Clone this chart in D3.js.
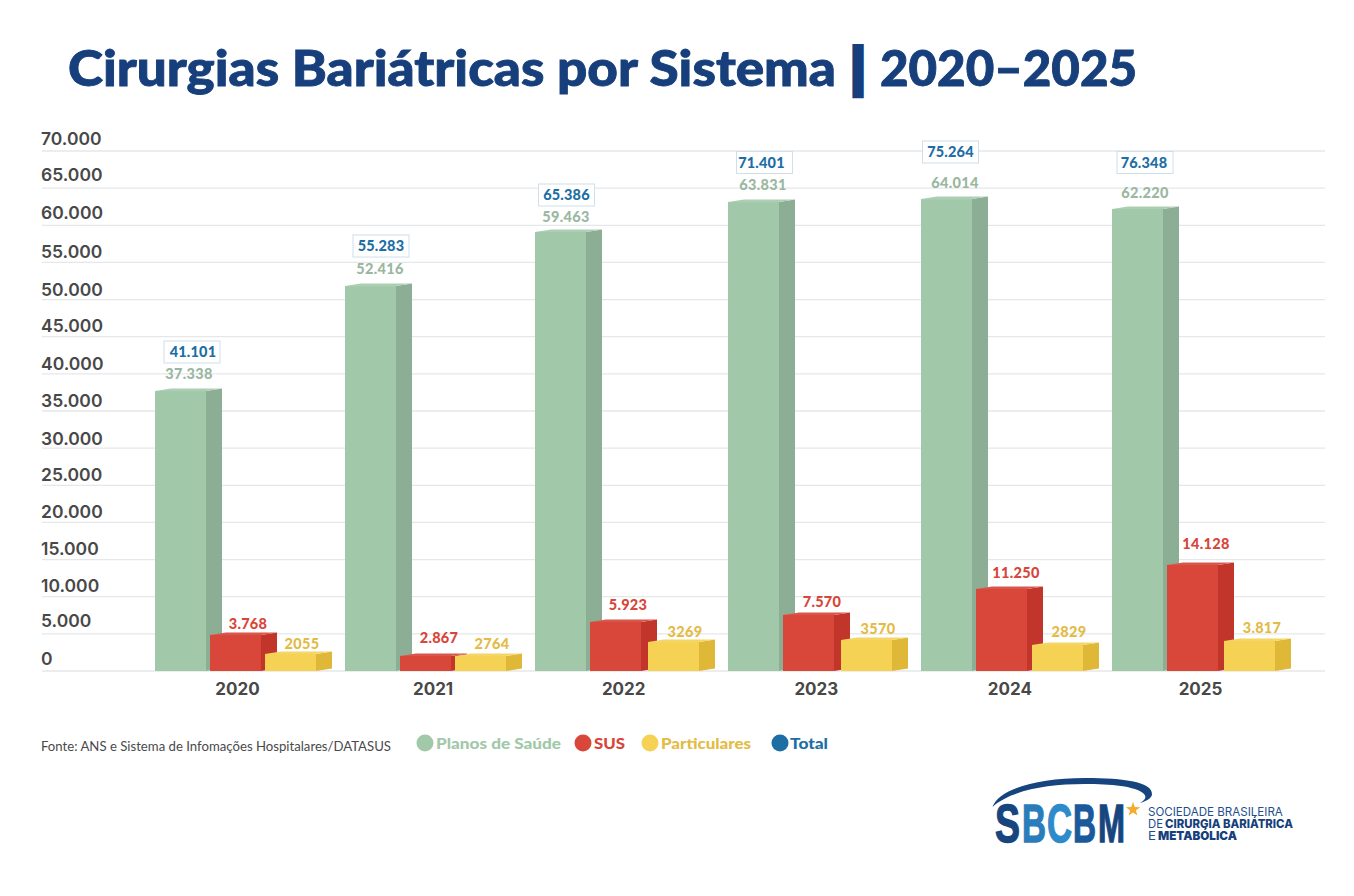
<!DOCTYPE html>
<html lang="pt-BR">
<head>
<meta charset="utf-8">
<title>Cirurgias Bariátricas por Sistema</title>
<script src="https://cdn.jsdelivr.net/npm/d3@7/dist/d3.min.js"></script>
<style>
html,body{margin:0;padding:0;background:#fff;}
svg{display:block;}
.domain{display:none;}
</style>
</head>
<body>
<svg id="chart" width="1354" height="896"></svg>
<script>
// ---- data ----
const years = ["2020","2021","2022","2023","2024","2025"];
const yTicks = [0,5000,10000,15000,20000,25000,30000,35000,40000,45000,50000,55000,60000,65000,70000];
// bar heights as they are drawn in the picture
const planos = [37690,51820,59100,63130,63530,62190];
const sus = [4850,2020,6600,7540,11040,14270];
const particulares = [2290,2020,3900,4170,3500,4040];
// printed value labels
const planosLabels = ["37.338","52.416","59.463","63.831","64.014","62.220"];
const susLabels = ["3.768","2.867","5.923","7.570","11.250","14.128"];
const particularesLabels = ["2055","2764","3269","3570","2829","3.817"];
const totalLabels = ["41.101","55.283","65.386","71.401","75.264","76.348"];
const legendNames = ["Planos de Saúde","SUS","Particulares","Total"];
const titleMain = "Cirurgias Bariátricas por Sistema";
const titleBar = "|";
const titleYears = "2020–2025";
const sourceText = "Fonte: ANS e Sistema de Infomações Hospitalares/DATASUS";

// ---- layout (hand placement in the original) ----
const C = {
  green:{front:"#a2c8aa",side:"#8cae95",top:"#abcfb3",label:"#9ab7a1",legend:"#a2c8aa"},
  red:{front:"#d9473a",side:"#c2352b",top:"#d8574c",label:"#d8453a",legend:"#d9473a"},
  yellow:{front:"#f5d253",side:"#e0b838",top:"#f3d666",label:"#e3bb45",legend:"#f5d253"},
  blue:"#1c6ea4", navy:"#173f7c", axis:"#484848", grid:"#e6e7ea", box:"#cfe0ea"
};
const barW = 51, depthX = 16, depthY = 2.5;
const groupNudge = [0,-1.4,-2.8,-1.2,0.4,0];
const seriesDX = {green:0, red:55, yellow:110};
const yellowNudge = [0,0,3,3,1,2];
const labelDX = {green:[34,35,31,35,34,33], red:[38,39,38,39,40,39], yellow:[37,37,37,37,37,38]};
const labelDY = {green:[17,17,15,17,16,16], red:[11,18,17,13,16,21], yellow:[10,12,10,11,13,13]};
const boxCX = [192,381,566.5,764.5,950.5,1145];
const boxCY = [352,246,195,162.5,152,162.5];
const boxTextDX = [1,0,0,-3,0,-1];
const yearNudge = [0,3,1,1,2,0];
const yTickShift = [-13,-13,-11,-11,-11,-11,-10,-11,-10,-11,-10,-11.5,-13,-14,-13];

const svg = d3.select("#chart");
const font = "Lato, sans-serif";

// ---- scales ----
const y = d3.scaleLinear().domain([0,70000]).range([671,151]);
const x = d3.scalePoint().domain(years).range([155,1112]);
const xLabel = d3.scalePoint().domain(years).range([237,1200]);
const fmt = d => d === 0 ? "0" : d3.format(",")(d).replace(/,/g,".");

// ---- title ----
svg.append("text").attr("x",68).attr("y",86).attr("fill",C.navy).attr("stroke",C.navy).attr("stroke-width",0.9)
  .attr("font-family",font).attr("font-weight",900).attr("font-size",50)
  .attr("textLength",768).attr("lengthAdjust","spacingAndGlyphs").text(titleMain);
svg.append("text").attr("x",858).attr("y",83.5).attr("text-anchor","middle").attr("fill",C.navy)
  .attr("stroke",C.navy).attr("stroke-width",6)
  .attr("font-family","DejaVu Sans").attr("font-weight",700).attr("font-size",48).text(titleBar);
svg.append("text").attr("x",880).attr("y",86).attr("fill",C.navy).attr("stroke",C.navy).attr("stroke-width",0.9)
  .attr("font-family",font).attr("font-weight",900).attr("font-size",50)
  .attr("textLength",257).attr("lengthAdjust","spacingAndGlyphs").text(titleYears);

// ---- grid and y axis ----
const yAxis = d3.axisLeft(y).tickValues(yTicks).tickFormat(fmt).tickSize(0).tickPadding(0);
const gy = svg.append("g").attr("transform","translate(41,0)").call(yAxis);
gy.selectAll("text").attr("text-anchor","start").attr("x",0).attr("dy","0.35em")
  .attr("transform",(d,i)=>`translate(0,${yTickShift[i]})`)
  .attr("font-family","Inter, sans-serif").attr("font-weight",600).attr("font-size",17.5)
  .attr("fill",C.axis);
svg.append("g").selectAll("line").data(yTicks).join("line")
  .attr("x1",42).attr("x2",1325).attr("y1",d=>y(d)).attr("y2",d=>y(d))
  .attr("stroke",C.grid).attr("stroke-width",1.3);

// ---- x axis ----
const xAxis = d3.axisBottom(xLabel).tickSize(0).tickPadding(0);
const gx = svg.append("g").attr("transform","translate(0,689)").call(xAxis);
gx.selectAll("text").attr("y",0).attr("dy","0.36em")
  .attr("dx",(d,i)=>yearNudge[i])
  .attr("font-family","Inter, sans-serif").attr("font-weight",700).attr("font-size",17)
  .attr("fill",C.axis);

// ---- 3D bars ----
function barX(key,i){
  return x(years[i]) + groupNudge[i] + seriesDX[key] + (key==="yellow" ? yellowNudge[i] : 0);
}
function drawSeries(key,values,labels){
  const col = C[key];
  const g = svg.append("g").attr("class","series-"+key);
  const items = values.map((v,i)=>({v,i,year:years[i],label:labels[i]}));
  const bars = g.selectAll("g").data(items).join("g");
  bars.append("rect")
    .attr("x",d=>barX(key,d.i)).attr("y",d=>y(d.v))
    .attr("width",barW).attr("height",d=>y(0)-y(d.v)).attr("fill",col.front);
  bars.append("polygon").attr("fill",col.side).attr("points",d=>{
    const l=barX(key,d.i)+barW, r=l+depthX, t=y(d.v), b=y(0);
    return [[l,b],[r,b-depthY],[r,t-depthY],[l,t]].join(" ");
  });
  bars.append("polygon").attr("fill",col.top).attr("points",d=>{
    const l=barX(key,d.i), t=y(d.v);
    return [[l,t],[l+depthX,t-depthY],[l+barW+depthX,t-depthY],[l+barW,t]].join(" ");
  });
}
function drawLabels(key,values,labels){
  svg.append("g").selectAll("text").data(values).join("text")
    .attr("x",(d,i)=>barX(key,i)+labelDX[key][i])
    .attr("y",(d,i)=>y(d)-labelDY[key][i])
    .attr("dy","0.36em").attr("text-anchor","middle")
    .attr("font-family",font).attr("font-weight",900).attr("font-size",14.5)
    .attr("letter-spacing",0.3).attr("fill",C[key].label)
    .text((d,i)=>labels[i]);
}
drawSeries("green",planos,planosLabels);
drawSeries("red",sus,susLabels);
drawSeries("yellow",particulares,particularesLabels);
drawLabels("green",planos,planosLabels);
drawLabels("red",sus,susLabels);
drawLabels("yellow",particulares,particularesLabels);

// ---- total boxes ----
const tg = svg.append("g").selectAll("g").data(totalLabels).join("g");
tg.append("rect").attr("x",(d,i)=>boxCX[i]-28).attr("y",(d,i)=>boxCY[i]-11)
  .attr("width",56).attr("height",22).attr("fill","#fff").attr("stroke",C.box).attr("stroke-width",1);
tg.append("text").attr("x",(d,i)=>boxCX[i]+boxTextDX[i]).attr("y",(d,i)=>boxCY[i])
  .attr("dy","0.36em").attr("text-anchor","middle").attr("fill",C.blue)
  .attr("font-family",font).attr("font-weight",900).attr("font-size",14.5).attr("letter-spacing",0.2)
  .text(d=>d);

// ---- source + legend ----
svg.append("text").attr("x",41).attr("y",746).attr("dy","0.35em").attr("fill","#4a4a4a")
  .attr("font-family",font).attr("font-weight",400).attr("font-size",13)
  .attr("textLength",350).attr("lengthAdjust","spacingAndGlyphs").text(sourceText);
const legendCX = [425,583,650,780];
const legendTX = [436,594,661,790];
const legendTW = [125,31,90,38];
const legendDot = [C.green.legend,C.red.legend,C.yellow.legend,C.blue];
const legendTxt = [C.green.legend,C.red.label,C.yellow.label,C.blue];
const lg = svg.append("g").selectAll("g").data(legendNames).join("g");
lg.append("circle").attr("cx",(d,i)=>legendCX[i]).attr("cy",743).attr("r",8.5).attr("fill",(d,i)=>legendDot[i]);
lg.append("text").attr("x",(d,i)=>legendTX[i]).attr("y",744).attr("dy","0.36em")
  .attr("font-family",font).attr("font-weight",900).attr("font-size",15)
  .attr("textLength",(d,i)=>legendTW[i]).attr("lengthAdjust","spacingAndGlyphs")
  .attr("fill",(d,i)=>legendTxt[i]).text(d=>d);

// ---- logo ----
const logo = svg.append("g").attr("class","logo");
logo.append("path").attr("fill","#15447f")
  .attr("d","M992.5,807 C998,790 1035,778 1085,778 C1125,778 1152,782 1152,794 C1152,798 1147,801 1140,803 C1145,800 1147,797 1144,794 C1136,786 1110,784 1085,784 C1045,784 1010,791 992.5,807 Z");
const logoLetters = ["S","B","C","B","M"];
const logoColors = ["#17467f","#2a7cba","#2d8bcb","#1a5a9c","#17467f"];
const logoX = [995,1022,1047,1073,1098];
const logoW = [25,24,25,23,27];
logo.append("g").selectAll("text").data(logoLetters).join("text")
  .attr("font-family","'Liberation Sans Narrow', sans-serif").attr("font-weight",700).attr("font-size",54)
  .attr("fill",(d,i)=>logoColors[i]).attr("stroke",(d,i)=>logoColors[i]).attr("stroke-width",1.4)
  .text(d=>d)
  .attr("transform",function(d,i){
    const sx = logoW[i] / this.getComputedTextLength();
    return `translate(${logoX[i]},842) scale(${sx},1)`;
  });
const star = d3.range(10).map(i=>{
  const r = i%2 ? 3 : 7.5, a = -Math.PI/2 + i*Math.PI/5;
  return [1133+r*Math.cos(a), 809.5+r*Math.sin(a)];
});
logo.append("polygon").attr("points",star.join(" ")).attr("fill","#f2ad2e");
const lf = "Inter, sans-serif";
function logoLine(tx,ty,w,weight,color,s){
  const t = logo.append("text").attr("font-family",lf).attr("font-weight",weight)
    .attr("font-size",12).attr("fill",color).text(s);
  const sx = w / t.node().getComputedTextLength();
  t.attr("transform",`translate(${tx},${ty}) scale(${sx},1)`);
}
logoLine(1148,815.5,135,400,"#1e4f8d","SOCIEDADE BRASILEIRA");
logoLine(1148,827.5,15,400,"#1e4f8d","DE");
logoLine(1165,827.5,128,800,"#163f7c","CIRURGIA BARIÁTRICA");
logoLine(1148,840,8,400,"#1e4f8d","E");
logoLine(1158,840,79,900,"#163f7c","METABÓLICA");
</script>
</body>
</html>
